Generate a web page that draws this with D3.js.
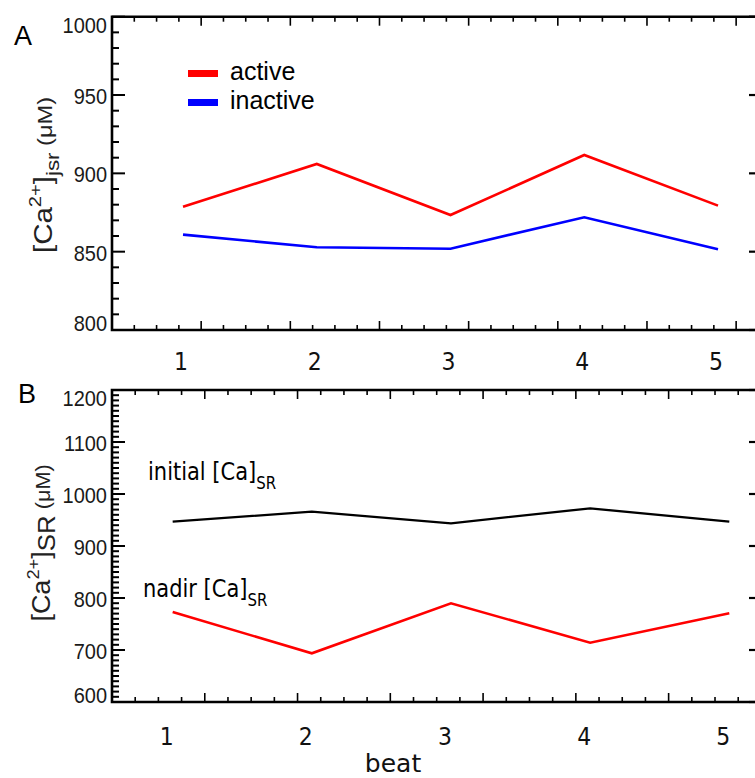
<!DOCTYPE html>
<html><head><meta charset="utf-8">
<script src="https://cdn.jsdelivr.net/npm/d3@7"></script>
<style>body{margin:0;background:#fff}svg{display:block}</style>
</head><body>
<svg id="chart" width="755" height="778"></svg>
<script>
// ---- data ----
const beats = [1, 2, 3, 4, 5];
const xTickLabels = ["1", "2", "3", "4", "5"];
const activeJsr = [878.7, 906.0, 873.4, 911.7, 879.4];
const inactiveJsr = [860.9, 852.8, 851.9, 872.0, 851.5];
const initialSR = [946.7, 966.0, 943.7, 972.5, 946.7];
const nadirSR = [773.0, 693.7, 789.8, 714.0, 770.6];
const topYTicks = [800, 850, 900, 950, 1000];
const botYTicks = [600, 700, 800, 900, 1000, 1100, 1200];
const legendNames = ["active", "inactive"];

const svg = d3.select("#chart");

function drawPanel(cfg) {
  const x = d3.scaleLinear().domain(cfg.xDomain).range([112, 762]);
  const y = d3.scaleLinear().domain(cfg.yDomain).range(cfg.yRange);
  const g = svg.append("g");
  const top = cfg.yRange[1], bot = cfg.yRange[0];

  const yMinor = d3.range(cfg.yDomain[0], cfg.yDomain[1] + 0.1, cfg.yMinor);
  g.selectAll(".ymin").data(yMinor).join("line")
    .attr("x1", 112).attr("x2", d => cfg.yTicks.includes(d) ? 125 : 119)
    .attr("y1", d => y(d)).attr("y2", d => y(d))
    .attr("stroke", "#000").attr("stroke-width", 2);
  g.selectAll(".ymaj").data(cfg.yTicks).join("line")
    .attr("x1", 762).attr("x2", 749)
    .attr("y1", d => y(d)).attr("y2", d => y(d))
    .attr("stroke", "#000").attr("stroke-width", 2.2);
  g.selectAll(".ylab").data(cfg.yTicks).join("text")
    .attr("transform", d => {
      const off = d === cfg.yDomain[1] ? 8 : (d === cfg.yDomain[0] ? -7 : 1);
      return `translate(107,${y(d) + off}) scale(1,1.12)`;
    })
    .attr("text-anchor", "end").attr("dominant-baseline", "central")
    .attr("font-family", "Liberation Sans, Arial, sans-serif").attr("font-size", 20)
    .attr("fill", "#1a1a1a")
    .text(d => d);

  const nX = Math.floor((cfg.xDomain[1] - cfg.xDomain[0]) * 6 + 1e-6);
  const xT = d3.range(0, nX + 1).map(k => ({v: cfg.xDomain[0] + k / 6, major: k % 4 === 0}));
  g.selectAll(".xb").data(xT).join("line")
    .attr("x1", d => x(d.v)).attr("x2", d => x(d.v))
    .attr("y1", bot).attr("y2", d => bot - (d.major ? 9 : 5))
    .attr("stroke", "#000").attr("stroke-width", 1.6);
  g.selectAll(".xt").data(xT).join("line")
    .attr("x1", d => x(d.v)).attr("x2", d => x(d.v))
    .attr("y1", top).attr("y2", d => top + (d.major ? 9 : 5))
    .attr("stroke", "#000").attr("stroke-width", 1.6);

  g.append("path")
    .attr("d", `M112,${top}H762V${bot}H112Z`)
    .attr("fill", "none").attr("stroke", "#000").attr("stroke-width", 2.6);

  g.selectAll(".xlab").data(beats).join("text")
    .attr("transform", d => `translate(${x(d) + cfg.xLabDx},${cfg.xLabY}) scale(1,1.1)`)
    .attr("text-anchor", "middle").attr("dominant-baseline", "central")
    .attr("font-family", "DejaVu Sans, sans-serif").attr("font-size", 22)
    .attr("fill", "#111")
    .text((d, i) => xTickLabels[i]);

  const line = d3.line().x((d, i) => x(beats[i])).y(d => y(d));
  cfg.series.forEach(s => {
    g.append("path").datum(s.values)
      .attr("d", line).attr("fill", "none")
      .attr("stroke", s.color).attr("stroke-width", s.width)
      .attr("stroke-linejoin", "miter");
  });
  return {x, y};
}

drawPanel({
  xDomain: [0.469, 5.329], yDomain: [800, 1000], yRange: [330, 16.7],
  yTicks: topYTicks, yMinor: 10, xLabY: 362, xLabDx: -2,
  series: [
    {values: activeJsr, color: "#ff0000", width: 2.6},
    {values: inactiveJsr, color: "#0000ff", width: 2.6}
  ]
});

drawPanel({
  xDomain: [0.564, 5.235], yDomain: [600, 1200], yRange: [702, 390],
  yTicks: botYTicks, yMinor: 10, xLabY: 737, xLabDx: -6,
  series: [
    {values: initialSR, color: "#000000", width: 2.2},
    {values: nadirSR, color: "#ff0000", width: 2.6}
  ]
});

svg.append("text").attr("x", 14).attr("y", 45)
  .attr("font-family", "Liberation Sans, Arial, sans-serif").attr("font-size", 27)
  .text("A");
svg.append("text").attr("x", 18).attr("y", 403)
  .attr("font-family", "Liberation Sans, Arial, sans-serif").attr("font-size", 27)
  .text("B");

// legend
const legColors = ["#ff0000", "#0000ff"];
const legG = svg.append("g");
legendNames.forEach((n, i) => {
  const yb = 80 + i * 29;
  legG.append("rect").attr("x", 188).attr("y", yb - 10).attr("width", 30).attr("height", 7)
    .attr("fill", legColors[i]);
  legG.append("text").attr("x", 230).attr("y", yb)
    .attr("font-family", "Liberation Sans, Arial, sans-serif").attr("font-size", 25)
    .attr("fill", "#000").text(n);
});

function yTitle(cx, cy, sub, subDy, sx) {
  const t = svg.append("text")
    .attr("transform", `translate(${cx},${cy}) rotate(-90) scale(${sx},1)`)
    .attr("text-anchor", "middle")
    .attr("font-family", "Liberation Sans, Arial, sans-serif").attr("font-size", 25)
    .attr("fill", "#222");
  t.append("tspan").text("[Ca");
  t.append("tspan").attr("font-size", 17).attr("dy", -11).text("2+");
  t.append("tspan").attr("dy", 11).text("]");
  t.append("tspan").attr("font-size", sub === "SR" ? 24 : 19).attr("dy", subDy).text(sub);
  t.append("tspan").attr("font-size", 20).attr("dy", -subDy).text(" (μM)");
}
yTitle(52, 175, "jsr", 7, 1.18);
yTitle(50, 543, "SR", 5, 1.08);

function annot(x0, yb, main) {
  const t = svg.append("text")
    .attr("transform", `translate(${x0},${yb}) scale(1,1.15)`)
    .attr("font-family", "DejaVu Sans, sans-serif").attr("font-size", 21)
    .attr("fill", "#000");
  t.append("tspan").text(main);
  t.append("tspan").attr("font-size", 15).attr("dy", 8).text("SR");
}
annot(148, 480, "initial [Ca]");
annot(143, 597, "nadir [Ca]");

svg.append("text").attr("x", 393).attr("y", 772)
  .attr("text-anchor", "middle")
  .attr("font-family", "DejaVu Sans, sans-serif").attr("font-size", 25)
  .attr("fill", "#111").text("beat");
</script>
</body></html>
